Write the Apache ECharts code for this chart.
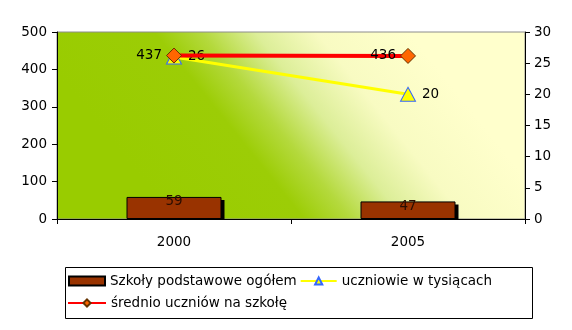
<!DOCTYPE html>
<html>
<head>
<meta charset="utf-8">
<script src="https://cdn.jsdelivr.net/npm/echarts@6/dist/echarts.min.js"></script>
<style>
  html, body { margin: 0; padding: 0; background: #ffffff; }
  #chart { width: 572px; height: 330px; }
</style>
</head>
<body>
<div id="chart"></div>
<script>
// Primary schools in 2000 and 2005
const years = ['2000', '2005'];
const schools = [59, 47];              // Szkoły podstawowe ogółem
const pupilsThousands = [26, 20];      // uczniowie w tysiącach (right axis)
const pupilsPerSchool = [437, 436];    // średnio uczniów na szkołę
const leftTicks = { min: 0, max: 500, interval: 100 };
const rightTicks = { min: 0, max: 30, interval: 5 };

const FONT = 'DejaVu Sans';
const FS = 13.5;
const BAR_W = 95;
const chart = echarts.init(document.getElementById('chart'), null, { renderer: 'canvas' });

const legendText = { fontFamily: FONT, fontSize: FS, color: '#000' };

chart.setOption({
  animation: false,
  backgroundColor: '#ffffff',
  textStyle: { fontFamily: FONT, color: '#000' },
  grid: {
    left: 57, right: 47, top: 32, bottom: 111,
    show: true,
    borderWidth: 1,
    borderColor: '#8c8c8c',
    backgroundColor: {
      type: 'linear', x: 0.25, y: 1, x2: 0.75, y2: 0,
      colorStops: [
        { offset: 0, color: '#99cc00' },
        { offset: 0.34, color: '#9ccd06' },
        { offset: 0.46, color: '#b4d93c' },
        { offset: 0.6, color: '#dcee98' },
        { offset: 0.76, color: '#f8fbc2' },
        { offset: 1, color: '#ffffcc' }
      ]
    }
  },
  graphic: [{
    type: 'rect',
    shape: { x: 65.5, y: 267.5, width: 467, height: 51 },
    style: { fill: '#fff', stroke: '#000', lineWidth: 1 },
    z: -1
  }],
  legend: [
    {
      left: 68, top: 274,
      itemWidth: 36, itemHeight: 9, itemGap: 3,
      padding: 0,
      textStyle: legendText,
      data: [
        { name: 'Szkoły podstawowe ogółem', icon: 'rect' },
        { name: 'uczniowie w tysiącach' }
      ]
    },
    {
      left: 67, top: 296,
      itemWidth: 38, itemHeight: 9, itemGap: 4,
      padding: 0,
      textStyle: legendText,
      data: [{ name: 'średnio uczniów na szkołę' }]
    }
  ],
  xAxis: {
    type: 'category',
    data: years,
    axisLine: { lineStyle: { color: '#000', width: 1 } },
    axisTick: { show: true, length: 5, inside: false, lineStyle: { color: '#000' } },
    axisLabel: { fontFamily: FONT, fontSize: FS, color: '#000', margin: 16 },
    splitLine: { show: false }
  },
  yAxis: [
    {
      type: 'value', position: 'left',
      min: leftTicks.min, max: leftTicks.max, interval: leftTicks.interval,
      axisLine: { show: true, lineStyle: { color: '#000' } },
      axisTick: { show: true, length: 5, lineStyle: { color: '#000' } },
      axisLabel: { fontFamily: FONT, fontSize: FS, color: '#000', margin: 10 },
      splitLine: { show: false }
    },
    {
      type: 'value', position: 'right',
      min: rightTicks.min, max: rightTicks.max, interval: rightTicks.interval,
      axisLine: { show: true, lineStyle: { color: '#000' } },
      axisTick: { show: true, length: 5, lineStyle: { color: '#000' } },
      axisLabel: { fontFamily: FONT, fontSize: FS, color: '#000', margin: 9 },
      splitLine: { show: false }
    }
  ],
  series: [
    {
      // drop shadow behind each bar, offset down and to the right
      name: 'shadow',
      type: 'custom',
      yAxisIndex: 0,
      z: 1,
      silent: true,
      data: schools.map((v, i) => [i, v]),
      renderItem: function (params, api) {
        const top = api.coord([api.value(0), api.value(1)]);
        const base = api.coord([api.value(0), 0]);
        return {
          type: 'rect',
          shape: { x: top[0] - BAR_W / 2 + 3, y: top[1] + 3, width: BAR_W, height: base[1] - top[1] - 3 },
          style: { fill: '#000' }
        };
      }
    },
    {
      name: 'Szkoły podstawowe ogółem',
      type: 'bar',
      yAxisIndex: 0,
      z: 2,
      data: schools,
      barWidth: BAR_W,
      itemStyle: { color: '#993300', borderColor: '#000', borderWidth: 1 },
      label: {
        show: true, position: 'insideTop', distance: 0, offset: [0, -2],
        fontFamily: FONT, fontSize: FS, color: '#2a0d00'
      }
    },
    {
      name: 'uczniowie w tysiącach',
      type: 'line',
      yAxisIndex: 1,
      z: 3,
      data: pupilsThousands,
      symbol: 'triangle',
      symbolSize: [15, 14],
      lineStyle: { color: '#ffff00', width: 3 },
      itemStyle: { color: '#ffff00', borderColor: '#3366ff', borderWidth: 1 },
      label: {
        show: true, position: 'right', distance: 6,
        fontFamily: FONT, fontSize: FS, color: '#000'
      }
    },
    {
      name: 'średnio uczniów na szkołę',
      type: 'line',
      yAxisIndex: 0,
      z: 4,
      data: pupilsPerSchool,
      symbol: 'diamond',
      symbolSize: 15,
      lineStyle: { color: '#ff0000', width: 4 },
      itemStyle: { color: '#ff6600', borderColor: '#663300', borderWidth: 1 },
      label: {
        show: true, position: 'left', distance: 4,
        fontFamily: FONT, fontSize: FS, color: '#000'
      }
    }
  ]
});
</script>
</body>
</html>
